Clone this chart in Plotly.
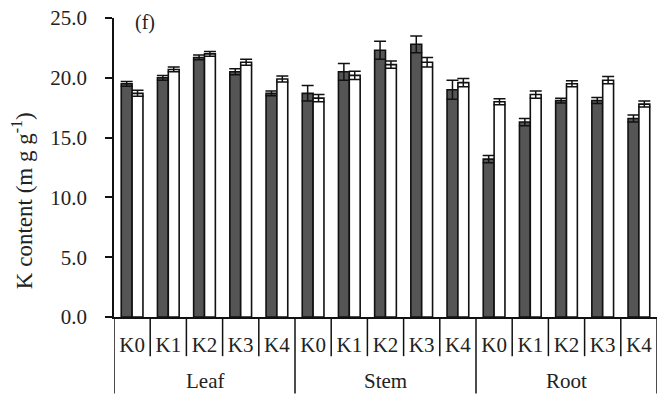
import plotly.graph_objects as go

tissues = ["Leaf", "Stem", "Root"]
levels = ["K0", "K1", "K2", "K3", "K4"]

dark = [19.5, 20.0, 21.7, 20.5, 18.7, 18.7, 20.5, 22.3, 22.8, 19.0, 13.2, 16.3, 18.1, 18.1, 16.6]
dark_err = [0.2, 0.2, 0.2, 0.25, 0.2, 0.65, 0.7, 0.75, 0.7, 0.8, 0.3, 0.3, 0.2, 0.25, 0.3]
white = [18.7, 20.7, 22.0, 21.3, 19.9, 18.3, 20.2, 21.1, 21.3, 19.6, 18.0, 18.6, 19.5, 19.8, 17.8]
white_err = [0.25, 0.2, 0.2, 0.25, 0.25, 0.3, 0.35, 0.3, 0.4, 0.35, 0.25, 0.3, 0.25, 0.3, 0.25]

yticks = [0, 5, 10, 15, 20, 25]

n_lv = len(levels)
n = len(tissues) * n_lv
xpos = list(range(n))
ticktext = levels * len(tissues)

FONT = "'Liberation Serif', 'Times New Roman', 'DejaVu Serif', serif"
TXT = "#222222"
fig = go.Figure()
fig.add_trace(go.Bar(
    x=xpos, y=dark, marker=dict(color="#555555", line=dict(color="#111111", width=1.6)),
    error_y=dict(type="data", array=dark_err, color="#111111", thickness=1.5, width=6),
    showlegend=False))
fig.add_trace(go.Bar(
    x=xpos, y=white, marker=dict(color="#ffffff", line=dict(color="#111111", width=1.6)),
    error_y=dict(type="data", array=white_err, color="#111111", thickness=1.5, width=6),
    showlegend=False))

shapes = []
for i in range(n + 1):
    boundary = i % n_lv == 0
    shapes.append(dict(type="line", xref="x", yref="paper",
                       x0=i - 0.5, x1=i - 0.5, y0=0, y1=-0.256 if boundary else -0.131,
                       line=dict(color="#111111", width=1.5)))

annotations = []
for g, t in enumerate(tissues):
    annotations.append(dict(x=g * n_lv + (n_lv - 1) / 2, y=-0.213, xref="x", yref="paper",
                            text=t, showarrow=False, yanchor="middle",
                            font=dict(family=FONT, size=21, color=TXT)))
annotations.append(dict(x=-0.168, y=0.39, xref="paper", yref="paper",
                        text="K content (m g g<sup>-1</sup>)", textangle=-90, showarrow=False,
                        xanchor="center", yanchor="middle",
                        font=dict(family=FONT, size=23, color=TXT)))
annotations.append(dict(x=(145 - 114) / 543, y=0.985, xref="paper", yref="paper", text="(f)",
                        showarrow=False, xanchor="center", yanchor="middle",
                        font=dict(family=FONT, size=20, color=TXT)))

fig.update_layout(
    width=663, height=413,
    margin=dict(l=114, r=6, t=12, b=96),
    paper_bgcolor="white", plot_bgcolor="white",
    barmode="group", bargap=0.4, bargroupgap=0,
    shapes=shapes, annotations=annotations,
    font=dict(family=FONT, size=20, color=TXT),
)
fig.update_xaxes(range=[-0.5, n - 0.5], tickvals=xpos, ticktext=ticktext, ticks="",
                 showline=True, linecolor="#111111", linewidth=1.5, showgrid=False,
                 zeroline=False, ticklabelstandoff=8,
                 tickfont=dict(family=FONT, size=21, color=TXT))
fig.update_yaxes(range=[0, 25], tickvals=yticks, ticktext=[f"{v:.1f}" for v in yticks],
                 ticks="outside", ticklen=7, tickwidth=1.5, tickcolor="#111111",
                 showline=True, linecolor="#111111", linewidth=1.5, showgrid=False,
                 zeroline=False, ticklabelstandoff=14,
                 tickfont=dict(family=FONT, size=21, color=TXT))

fig.write_html("out.html")
